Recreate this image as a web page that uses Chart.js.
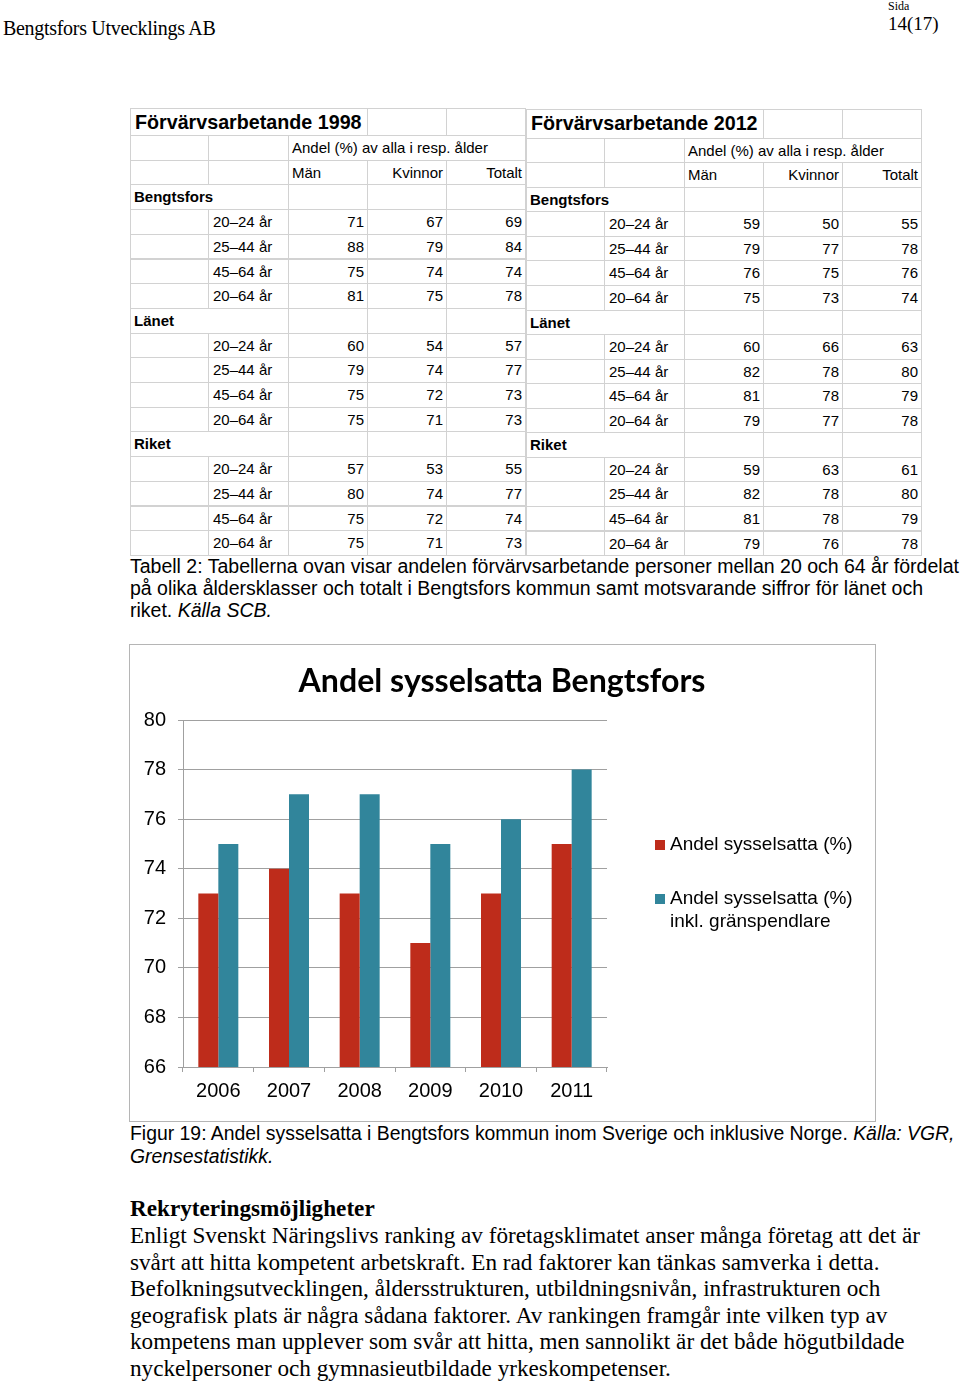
<!DOCTYPE html>
<html><head><meta charset="utf-8">
<script src="https://cdn.jsdelivr.net/npm/chart.js@4.4.1/dist/chart.umd.min.js"></script>
<style>
html,body{margin:0;padding:0;background:#fff;}
body{width:960px;height:1384px;position:relative;overflow:hidden;font-family:"Liberation Sans",Arial,sans-serif;color:#000;}
.abs{position:absolute;white-space:nowrap;}
.cell{position:absolute;box-sizing:border-box;border:1px solid #d2d2d2;font-size:15px;white-space:nowrap;overflow:visible;padding:0 3px;}
.serif{font-family:"Liberation Serif","Times New Roman",serif;}
#chartBox{position:absolute;left:129px;top:644px;width:745px;height:476px;border:1px solid #b5b5b5;}
#chart{display:block;}
</style></head>
<body>
<div class="abs serif" style="left:3px;top:16px;font-size:20px;line-height:24px;letter-spacing:-0.3px;">Bengtsfors Utvecklings AB</div>
<div class="abs serif" style="left:888px;top:-1px;font-size:12px;line-height:14px;">Sida</div>
<div class="abs serif" style="left:888px;top:12px;font-size:19px;line-height:24px;">14(17)</div>

<div id="tables"></div>

<div class="abs" style="left:130px;top:555px;font-size:19.5px;line-height:22px;">Tabell 2: Tabellerna ovan visar andelen förvärvsarbetande personer mellan 20 och 64 år fördelat<br>på olika åldersklasser och totalt i Bengtsfors kommun samt motsvarande siffror för länet och<br>riket. <i>Källa SCB.</i></div>

<div id="chartBox"><canvas id="chart" width="745" height="476"></canvas></div>

<div class="abs" style="left:130px;top:1122px;font-size:19.4px;line-height:23px;">Figur 19: Andel sysselsatta i Bengtsfors kommun inom Sverige och inklusive Norge. <i>Källa: VGR,</i><br><i>Grensestatistikk.</i></div>

<div class="abs serif" style="left:130px;top:1195px;font-size:23.2px;line-height:27px;font-weight:bold;">Rekryteringsmöjligheter</div>
<div class="abs serif" style="left:130px;top:1222px;font-size:23.2px;line-height:26.6px;">Enligt Svenskt Näringslivs ranking av företagsklimatet anser många företag att det är<br>svårt att hitta kompetent arbetskraft. En rad faktorer kan tänkas samverka i detta.<br>Befolkningsutvecklingen, åldersstrukturen, utbildningsnivån, infrastrukturen och<br>geografisk plats är några sådana faktorer. Av rankingen framgår inte vilken typ av<br>kompetens man upplever som svår att hitta, men sannolikt är det både högutbildade<br>nyckelpersoner och gymnasieutbildade yrkeskompetenser.</div>

<script>
// ---------- Table data ----------
const ageGroups = ['20–24 år','25–44 år','45–64 år','20–64 år'];
const regions = ['Bengtsfors','Länet','Riket'];
const colHeaders = ['Män','Kvinnor','Totalt'];
const shareLabel = 'Andel (%) av alla i resp. ålder';
const men1998   = [71,88,75,81, 60,79,75,75, 57,80,75,75];
const women1998 = [67,79,74,75, 54,74,72,71, 53,74,72,71];
const total1998 = [69,84,74,78, 57,77,73,73, 55,77,74,73];
const men2012   = [59,79,76,75, 60,82,81,79, 59,82,81,79];
const women2012 = [50,77,75,73, 66,78,78,77, 63,78,78,76];
const total2012 = [55,78,76,74, 63,80,79,78, 61,80,79,78];

// ---------- Chart data ----------
const years = ['2006','2007','2008','2009','2010','2011'];
const employed = [73,74,73,71,73,75];
const employedInclCommuters = [75,77,77,75,76,78];
const seriesLabels = ['Andel sysselsatta (%)','Andel sysselsatta (%) inkl. gränspendlare'];
const chartTitle = 'Andel sysselsatta Bengtsfors';

function buildTable(title, men, women, tot, left, top, titleH, rowH){
  const widths=[78,80,79,79,79];
  const xs=[left]; widths.forEach(w=>xs.push(xs[xs.length-1]+w));
  const rows=[];
  rows.push([{t:title,span:3,cls:'title'},{t:''},{t:''}]);
  rows.push([{t:''},{t:''},{t:shareLabel,span:3}]);
  rows.push([{t:''},{t:''},{t:colHeaders[0]},{t:colHeaders[1],r:1},{t:colHeaders[2],r:1}]);
  regions.forEach((reg,ri)=>{
    rows.push([{t:reg,span:2,b:1},{t:''},{t:''},{t:''}]);
    ageGroups.forEach((ag,ai)=>{
      const k=ri*4+ai;
      rows.push([{t:''},{t:ag,pl:4},{t:men[k],r:1},{t:women[k],r:1},{t:tot[k],r:1}]);
    });
  });
  const host=document.getElementById('tables');
  let y=top;
  rows.forEach((row,ri)=>{
    const h = ri===0?titleH:rowH;
    let c=0;
    row.forEach(cell=>{
      const span=cell.span||1;
      const d=document.createElement('div');
      d.className='cell';
      d.style.left=xs[c]+'px';
      d.style.top=y+'px';
      d.style.width=(xs[c+span]-xs[c]+1)+'px';
      d.style.height=(h+1)+'px';
      d.style.lineHeight=(h-1)+'px';
      if(cell.r) d.style.textAlign='right';
      if(cell.b) d.style.fontWeight='bold';
      if(cell.pl) d.style.paddingLeft=cell.pl+'px';
      if(cell.cls==='title'){d.style.fontWeight='bold';d.style.fontSize='19.7px';d.style.paddingLeft='4px';}
      d.textContent=cell.t;
      host.appendChild(d);
      c+=span;
    });
    y+=h;
  });
}
buildTable('Förvärvsarbetande 1998', men1998, women1998, total1998, 130, 107.5, 27.5, 24.7);
buildTable('Förvärvsarbetande 2012', men2012, women2012, total2012, 526, 109, 28.7, 24.55);

// ---------- Chart ----------
const RED='#be2c1b', BLUE='#31859b';
const decor={
  id:'decor',
  afterDraw(chart){
    const ctx=chart.ctx;
    ctx.save();
    // title
    let fs=32;
    ctx.font='bold '+fs+'px Lato, "Open Sans", sans-serif';
    const w=ctx.measureText(chartTitle).width;
    fs=fs*407/w;
    ctx.font='bold '+fs+'px Lato, "Open Sans", sans-serif';
    ctx.fillStyle='#000';
    ctx.textAlign='center';
    ctx.textBaseline='alphabetic';
    ctx.fillText(chartTitle,372,47);
    // legend
    ctx.textAlign='left';
    ctx.font='19px "Liberation Sans", Arial, sans-serif';
    const items=[{y:205},{y:259}];
    chart.data.datasets.forEach((ds,i)=>{
      ctx.fillStyle=ds.backgroundColor;
      ctx.fillRect(525,items[i].y-10,10,10);
      ctx.fillStyle='#000';
      const words=ds.label.split(' ');
      const lines=[];let cur='';
      words.forEach(wd=>{
        const test=cur?cur+' '+wd:wd;
        if(ctx.measureText(test).width>195 && cur){lines.push(cur);cur=wd;} else cur=test;
      });
      lines.push(cur);
      lines.forEach((ln,li)=>ctx.fillText(ln,540,items[i].y+li*23));
    });
    ctx.restore();
  }
};
new Chart(document.getElementById('chart'),{
  type:'bar',
  data:{labels:years,datasets:[
    {label:seriesLabels[0],data:employed,backgroundColor:RED},
    {label:seriesLabels[1],data:employedInclCommuters,backgroundColor:BLUE}
  ]},
  options:{
    responsive:false,animation:false,devicePixelRatio:1,
    layout:{padding:{top:75,right:268,left:0,bottom:0}},
    plugins:{legend:{display:false},tooltip:{enabled:false},title:{display:false}},
    datasets:{bar:{categoryPercentage:0.566,barPercentage:1}},
    scales:{
      x:{
        grid:{drawOnChartArea:false,drawTicks:true,tickLength:5,color:'#a0a0a0',offset:true},
        border:{color:'#a0a0a0'},
        ticks:{color:'#000',font:{size:20,family:'"Liberation Sans", Arial, sans-serif'},padding:7,maxRotation:0,autoSkip:false},
        afterFit(s){s.height=54;}
      },
      y:{
        min:66,max:80,
        ticks:{stepSize:2,color:'#000',font:{size:20,family:'"Liberation Sans", Arial, sans-serif'},padding:12},
        grid:{color:'#a0a0a0',tickLength:5},
        border:{color:'#a0a0a0'},
        afterFit(s){s.width=53;}
      }
    }
  },
  plugins:[decor]
});
</script>
</body></html>
